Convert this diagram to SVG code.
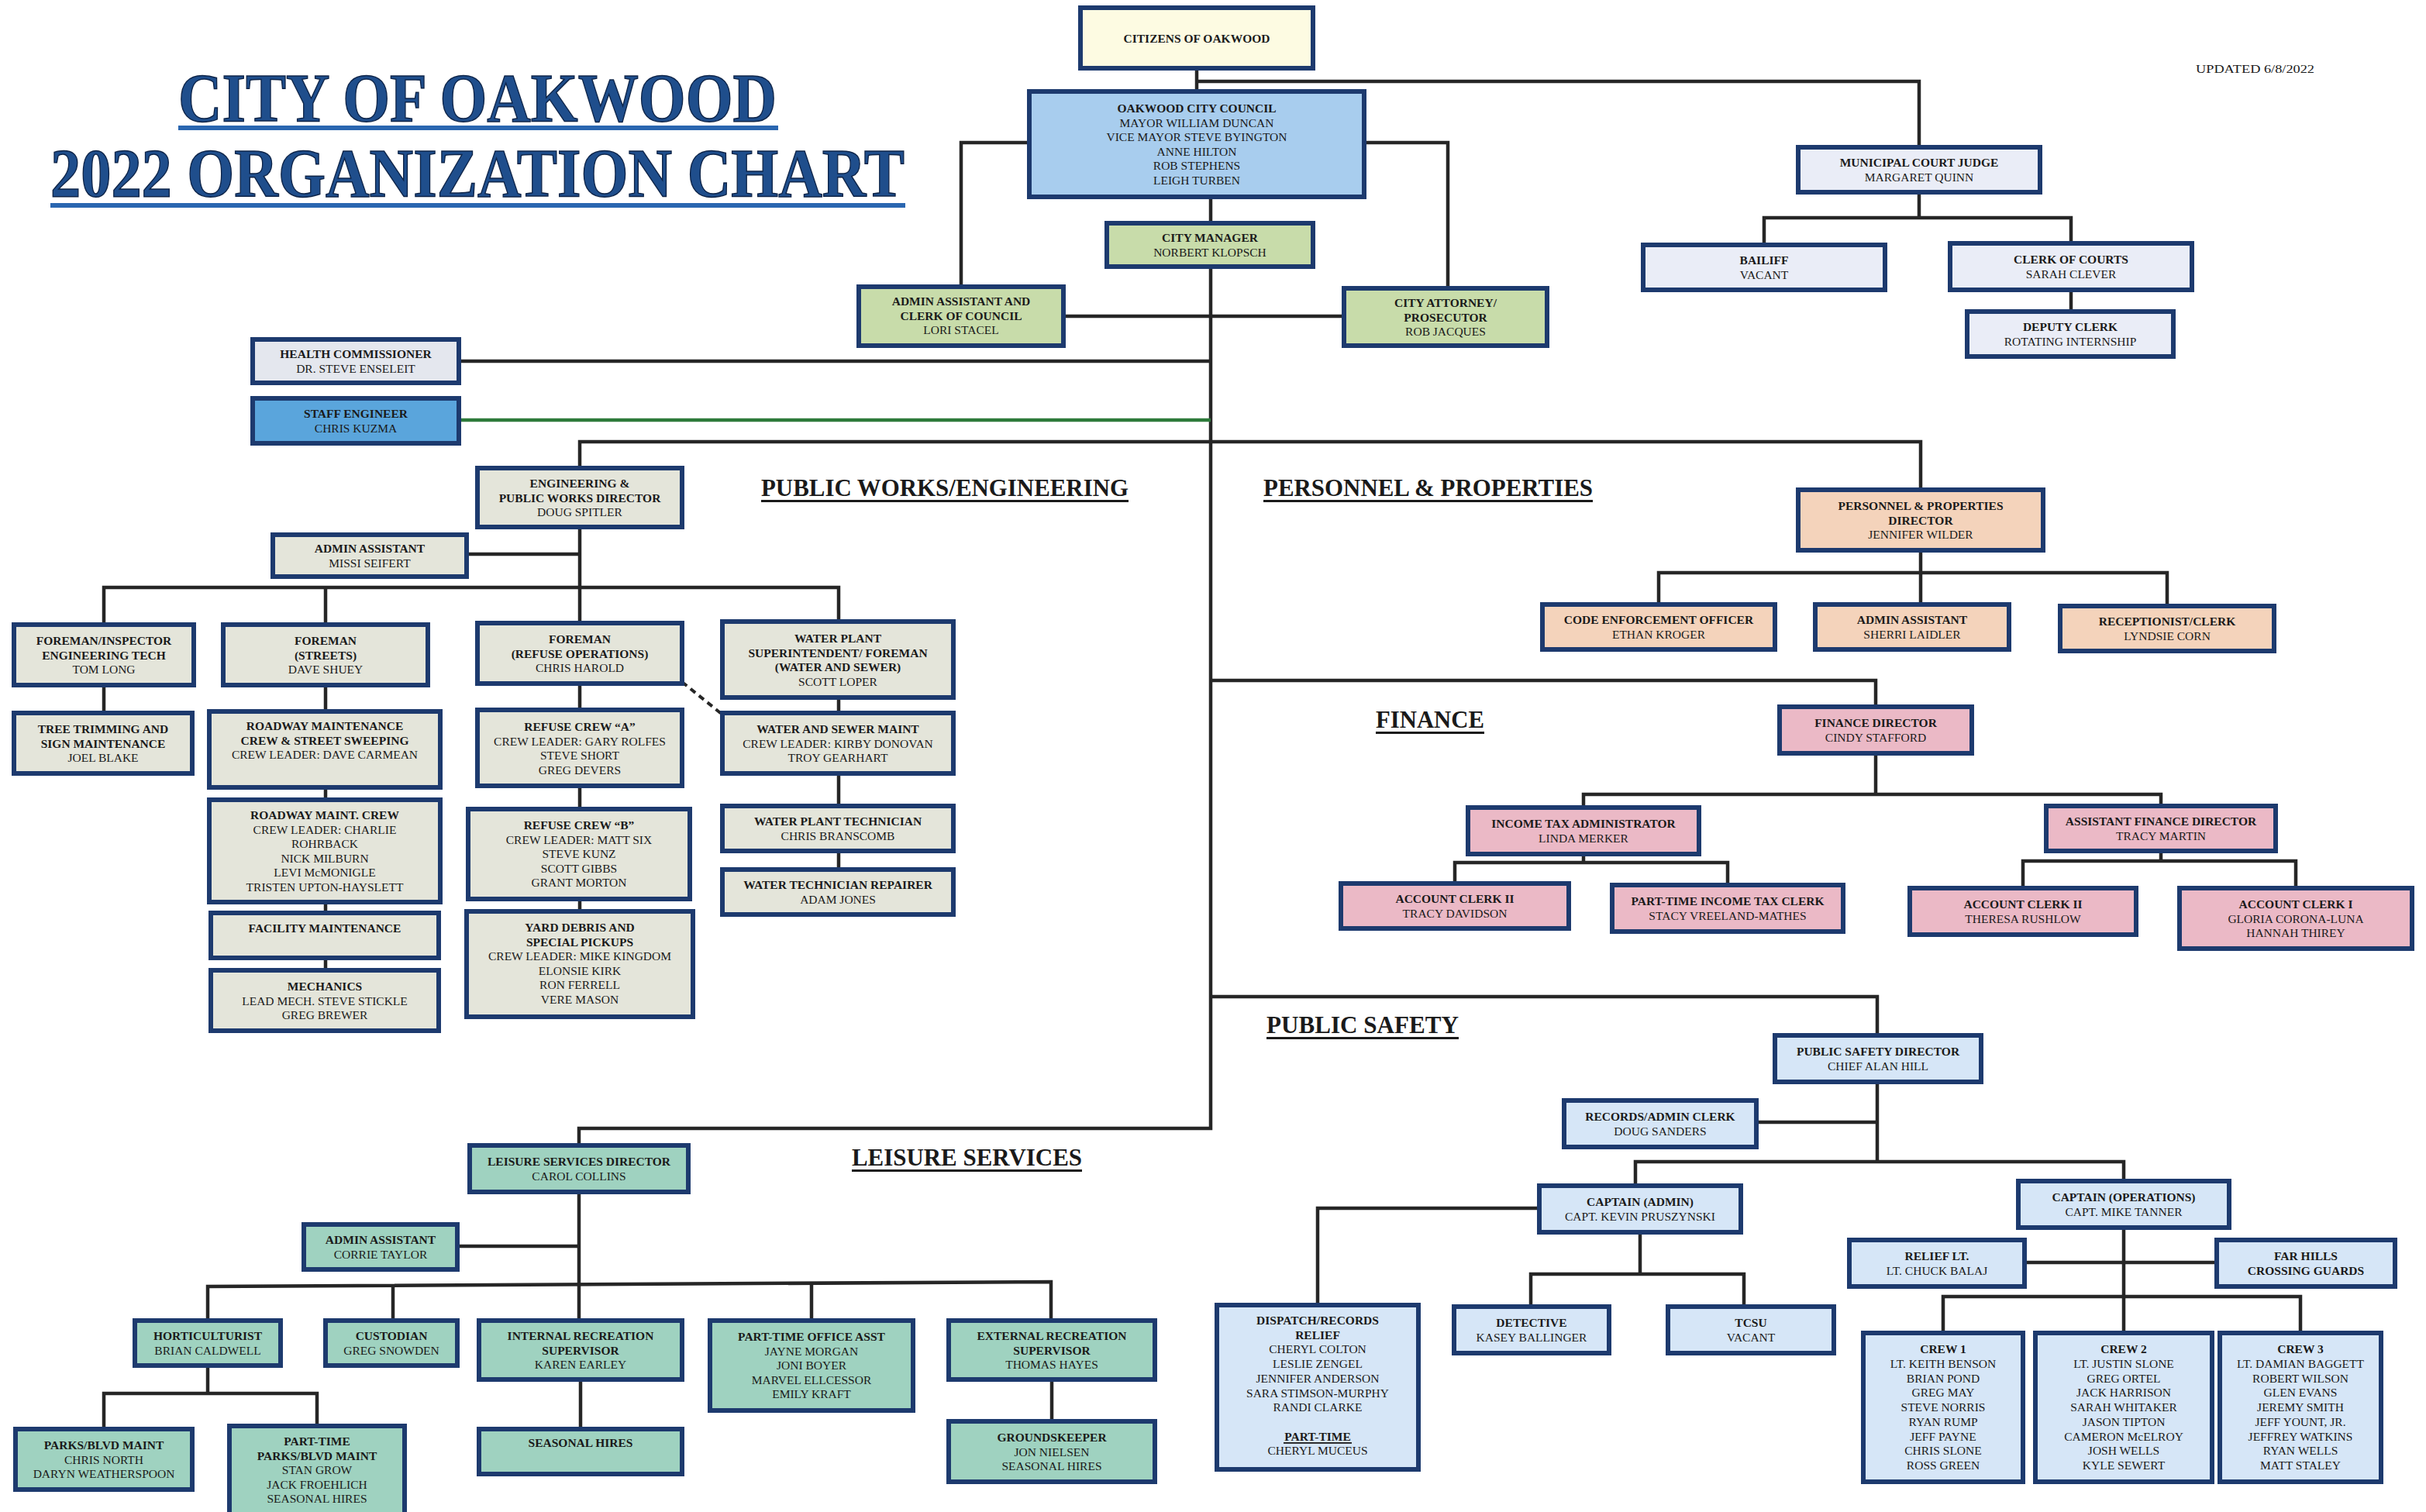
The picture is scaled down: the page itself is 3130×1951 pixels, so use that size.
<svg xmlns="http://www.w3.org/2000/svg" width="3130" height="1951" viewBox="0 0 3130 1951">
<style>
rect.b{stroke:#1d3a6e;stroke-width:6}
.cit{fill:#fdfbe2}.cou{fill:#a8cdee}.grn{fill:#c8dcaa}.crt{fill:#eaedf7}.hc{fill:#e4e7ee}.se{fill:#5aa5dc}
.pw{fill:#e4e5da}.pp{fill:#f4d3bb}.fin{fill:#ebb9c6}.ps{fill:#d6e6f7}.ls{fill:#9fd2c0}
text{font-family:"Liberation Serif","Times New Roman",serif;fill:#1a1a1a}
.t{font-size:15.5px;text-anchor:middle}
.h{font-weight:bold}
.sec{font-size:32px;font-weight:bold}
.ttl{font-size:88px;font-weight:bold;fill:#1f4e8c;stroke:#0d2347;stroke-width:1.5}
.c{stroke:#262626;stroke-width:4.5;fill:none}
.g{stroke:#2d7a3a;stroke-width:4.5;fill:none}
.d{stroke:#262626;stroke-width:4;fill:none;stroke-dasharray:8 6}
.ul{fill:#1a1a1a}
.tul{fill:#2a66b0}
</style>

<g id="title">
<text class="ttl" x="230" y="156" textLength="772" lengthAdjust="spacingAndGlyphs">CITY OF OAKWOOD</text>
<rect class="tul" x="230" y="162" width="774" height="6"/>
<text class="ttl" x="65" y="253" textLength="1102" lengthAdjust="spacingAndGlyphs">2022 ORGANIZATION CHART</text>
<rect class="tul" x="65" y="262" width="1103" height="6"/>
<text x="2833" y="94" font-size="15" textLength="153" lengthAdjust="spacingAndGlyphs">UPDATED 6/8/2022</text>
</g>

<g id="section-labels">
<text class="sec" x="982" y="640" textLength="474" lengthAdjust="spacingAndGlyphs">PUBLIC WORKS/ENGINEERING</text>
<rect class="ul" x="982" y="645" width="474" height="3"/>
<text class="sec" x="1630" y="640" textLength="425" lengthAdjust="spacingAndGlyphs">PERSONNEL &amp; PROPERTIES</text>
<rect class="ul" x="1630" y="645" width="425" height="3"/>
<text class="sec" x="1775" y="939" textLength="140" lengthAdjust="spacingAndGlyphs">FINANCE</text>
<rect class="ul" x="1775" y="944" width="140" height="3"/>
<text class="sec" x="1634" y="1333" textLength="248" lengthAdjust="spacingAndGlyphs">PUBLIC SAFETY</text>
<rect class="ul" x="1634" y="1338" width="248" height="3"/>
<text class="sec" x="1099" y="1504" textLength="297" lengthAdjust="spacingAndGlyphs">LEISURE SERVICES</text>
<rect class="ul" x="1099" y="1509" width="297" height="3"/>
</g>

<g id="connectors">
<!-- top -->
<path class="c" d="M1544 88V118"/>
<path class="c" d="M1544 105H2476V190"/>
<path class="c" d="M1328 184H1240V370"/>
<path class="c" d="M1760 184H1868V372"/>
<path class="c" d="M1562 254V288"/>
<path class="c" d="M1562 344V1456H747V1478"/>
<path class="c" d="M1372 408H1734"/>
<!-- court -->
<path class="c" d="M2476 248V281"/>
<path class="c" d="M2276 316V281H2672V314"/>
<path class="c" d="M2672 374V402"/>
<!-- health / staff engineer -->
<path class="c" d="M592 466H1562"/>
<path class="g" d="M592 542H1562"/>
<!-- public works / personnel -->
<path class="c" d="M748 604V570H2478V632"/>
<path class="c" d="M748 680V804"/>
<path class="c" d="M602 715H748"/>
<path class="c" d="M134 806V758H1082V802"/>
<path class="c" d="M420 758V806"/>
<path class="c" d="M134 884V920"/>
<path class="c" d="M420 884V918M420 1016V1032M420 1164V1178M420 1236V1252"/>
<path class="c" d="M748 882V916M748 1014V1044M748 1160V1176"/>
<path class="c" d="M1082 900V920M1082 998V1040M1082 1098V1122"/>
<path class="d" d="M880 880L932 922"/>
<!-- personnel -->
<path class="c" d="M2478 710V780"/>
<path class="c" d="M2140 780V739H2796V782"/>
<!-- finance -->
<path class="c" d="M1562 878H2420V912"/>
<path class="c" d="M2420 972V1025"/>
<path class="c" d="M2043 1042V1025H2788V1040"/>
<path class="c" d="M2043 1102V1113"/>
<path class="c" d="M1877 1140V1113H2229V1142"/>
<path class="c" d="M2788 1098V1111"/>
<path class="c" d="M2610 1146V1111H2962V1146"/>
<!-- public safety -->
<path class="c" d="M1562 1286H2422V1336"/>
<path class="c" d="M2422 1396V1499"/>
<path class="c" d="M2266 1448H2422"/>
<path class="c" d="M2110 1530V1499H2740V1524"/>
<path class="c" d="M1986 1559H1700V1684"/>
<path class="c" d="M2116 1590V1644"/>
<path class="c" d="M1975 1686V1644H2250V1686"/>
<path class="c" d="M2740 1584V1720"/>
<path class="c" d="M2612 1629H2860"/>
<path class="c" d="M2507 1720V1673H2968V1720"/>
<!-- leisure -->
<path class="c" d="M747 1538V1704"/>
<path class="c" d="M590 1608H747"/>
<path class="c" d="M268 1704V1660L1356 1654V1704"/>
<path class="c" d="M507 1658V1704"/>
<path class="c" d="M1047 1656V1704"/>
<path class="c" d="M268 1762V1798"/>
<path class="c" d="M134 1844V1798H409V1840"/>
<path class="c" d="M749 1780V1844"/>
<path class="c" d="M1357 1780V1834"/>
</g>

<g id="citizens"><rect class="b cit" x="1394" y="10" width="300" height="78"/>
<text class="t h"><tspan x="1544" y="55">CITIZENS OF OAKWOOD</tspan></text></g>

<g id="city-council"><rect class="b cou" x="1328" y="118" width="432" height="136"/>
<text class="t"><tspan class="h" x="1544" y="145">OAKWOOD CITY COUNCIL</tspan><tspan x="1544" y="163.5">MAYOR WILLIAM DUNCAN</tspan><tspan x="1544" y="182">VICE MAYOR STEVE BYINGTON</tspan><tspan x="1544" y="200.5">ANNE HILTON</tspan><tspan x="1544" y="219">ROB STEPHENS</tspan><tspan x="1544" y="237.5">LEIGH TURBEN</tspan></text></g>

<g id="city-manager"><rect class="b grn" x="1428" y="288" width="266" height="56"/>
<text class="t"><tspan class="h" x="1561" y="312">CITY MANAGER</tspan><tspan x="1561" y="330.5">NORBERT KLOPSCH</tspan></text></g>

<g id="clerk-of-council"><rect class="b grn" x="1108" y="370" width="264" height="76"/>
<text class="t"><tspan class="h" x="1240" y="394">ADMIN ASSISTANT AND</tspan><tspan class="h" x="1240" y="412.5">CLERK OF COUNCIL</tspan><tspan x="1240" y="431">LORI STACEL</tspan></text></g>

<g id="city-attorney"><rect class="b grn" x="1734" y="372" width="262" height="74"/>
<text class="t"><tspan class="h" x="1865" y="396">CITY ATTORNEY/</tspan><tspan class="h" x="1865" y="414.5">PROSECUTOR</tspan><tspan x="1865" y="433">ROB JACQUES</tspan></text></g>

<g id="court-judge"><rect class="b crt" x="2320" y="190" width="312" height="58"/>
<text class="t"><tspan class="h" x="2476" y="215">MUNICIPAL COURT JUDGE</tspan><tspan x="2476" y="233.5">MARGARET QUINN</tspan></text></g>

<g id="bailiff"><rect class="b crt" x="2120" y="316" width="312" height="58"/>
<text class="t"><tspan class="h" x="2276" y="341">BAILIFF</tspan><tspan x="2276" y="359.5">VACANT</tspan></text></g>

<g id="clerk-of-courts"><rect class="b crt" x="2516" y="314" width="312" height="60"/>
<text class="t"><tspan class="h" x="2672" y="340">CLERK OF COURTS</tspan><tspan x="2672" y="358.5">SARAH CLEVER</tspan></text></g>

<g id="deputy-clerk"><rect class="b crt" x="2538" y="402" width="266" height="58"/>
<text class="t"><tspan class="h" x="2671" y="427">DEPUTY CLERK</tspan><tspan x="2671" y="445.5">ROTATING INTERNSHIP</tspan></text></g>

<g id="health-commissioner"><rect class="b hc" x="326" y="438" width="266" height="56"/>
<text class="t"><tspan class="h" x="459" y="462">HEALTH COMMISSIONER</tspan><tspan x="459" y="480.5">DR. STEVE ENSELEIT</tspan></text></g>

<g id="staff-engineer"><rect class="b se" x="326" y="514" width="266" height="58"/>
<text class="t"><tspan class="h" x="459" y="539">STAFF ENGINEER</tspan><tspan x="459" y="557.5">CHRIS KUZMA</tspan></text></g>

<g id="pw-director"><rect class="b pw" x="616" y="604" width="264" height="76"/>
<text class="t"><tspan class="h" x="748" y="629">ENGINEERING &amp;</tspan><tspan class="h" x="748" y="647.5">PUBLIC WORKS DIRECTOR</tspan><tspan x="748" y="666">DOUG SPITLER</tspan></text></g>

<g id="pw-admin"><rect class="b pw" x="352" y="690" width="250" height="54"/>
<text class="t"><tspan class="h" x="477" y="713">ADMIN ASSISTANT</tspan><tspan x="477" y="731.5">MISSI SEIFERT</tspan></text></g>

<g id="foreman-inspector"><rect class="b pw" x="18" y="806" width="232" height="78"/>
<text class="t"><tspan class="h" x="134" y="832">FOREMAN/INSPECTOR</tspan><tspan class="h" x="134" y="850.5">ENGINEERING TECH</tspan><tspan x="134" y="869">TOM LONG</tspan></text></g>

<g id="tree-trimming"><rect class="b pw" x="18" y="920" width="230" height="78"/>
<text class="t"><tspan class="h" x="133" y="946">TREE TRIMMING AND</tspan><tspan class="h" x="133" y="964.5">SIGN MAINTENANCE</tspan><tspan x="133" y="983">JOEL BLAKE</tspan></text></g>

<g id="foreman-streets"><rect class="b pw" x="288" y="806" width="264" height="78"/>
<text class="t"><tspan class="h" x="420" y="832">FOREMAN</tspan><tspan class="h" x="420" y="850.5">(STREETS)</tspan><tspan x="420" y="869">DAVE SHUEY</tspan></text></g>

<g id="roadway-sweeping"><rect class="b pw" x="270" y="918" width="298" height="98"/>
<text class="t"><tspan class="h" x="419" y="942">ROADWAY MAINTENANCE</tspan><tspan class="h" x="419" y="960.5">CREW &amp; STREET SWEEPING</tspan><tspan x="419" y="979">CREW LEADER: DAVE CARMEAN</tspan></text></g>

<g id="roadway-crew"><rect class="b pw" x="270" y="1032" width="298" height="132"/>
<text class="t"><tspan class="h" x="419" y="1057">ROADWAY MAINT. CREW</tspan><tspan x="419" y="1075.5">CREW LEADER: CHARLIE</tspan><tspan x="419" y="1094">ROHRBACK</tspan><tspan x="419" y="1112.5">NICK MILBURN</tspan><tspan x="419" y="1131">LEVI McMONIGLE</tspan><tspan x="419" y="1149.5">TRISTEN UPTON-HAYSLETT</tspan></text></g>

<g id="facility-maintenance"><rect class="b pw" x="272" y="1178" width="294" height="58"/>
<text class="t h"><tspan x="419" y="1203">FACILITY MAINTENANCE</tspan></text></g>

<g id="mechanics"><rect class="b pw" x="272" y="1252" width="294" height="78"/>
<text class="t"><tspan class="h" x="419" y="1278">MECHANICS</tspan><tspan x="419" y="1296.5">LEAD MECH. STEVE STICKLE</tspan><tspan x="419" y="1315">GREG BREWER</tspan></text></g>

<g id="foreman-refuse"><rect class="b pw" x="616" y="804" width="264" height="78"/>
<text class="t"><tspan class="h" x="748" y="830">FOREMAN</tspan><tspan class="h" x="748" y="848.5">(REFUSE OPERATIONS)</tspan><tspan x="748" y="867">CHRIS HAROLD</tspan></text></g>

<g id="refuse-crew-a"><rect class="b pw" x="616" y="916" width="264" height="98"/>
<text class="t"><tspan class="h" x="748" y="943">REFUSE CREW “A”</tspan><tspan x="748" y="961.5">CREW LEADER: GARY ROLFES</tspan><tspan x="748" y="980">STEVE SHORT</tspan><tspan x="748" y="998.5">GREG DEVERS</tspan></text></g>

<g id="refuse-crew-b"><rect class="b pw" x="604" y="1044" width="286" height="116"/>
<text class="t"><tspan class="h" x="747" y="1070">REFUSE CREW “B”</tspan><tspan x="747" y="1088.5">CREW LEADER: MATT SIX</tspan><tspan x="747" y="1107">STEVE KUNZ</tspan><tspan x="747" y="1125.5">SCOTT GIBBS</tspan><tspan x="747" y="1144">GRANT MORTON</tspan></text></g>

<g id="yard-debris"><rect class="b pw" x="602" y="1176" width="292" height="136"/>
<text class="t"><tspan class="h" x="748" y="1202">YARD DEBRIS AND</tspan><tspan class="h" x="748" y="1220.5">SPECIAL PICKUPS</tspan><tspan x="748" y="1239">CREW LEADER: MIKE KINGDOM</tspan><tspan x="748" y="1257.5">ELONSIE KIRK</tspan><tspan x="748" y="1276">RON FERRELL</tspan><tspan x="748" y="1294.5">VERE MASON</tspan></text></g>

<g id="water-plant-super"><rect class="b pw" x="932" y="802" width="298" height="98"/>
<text class="t"><tspan class="h" x="1081" y="829">WATER PLANT</tspan><tspan class="h" x="1081" y="847.5">SUPERINTENDENT/ FOREMAN</tspan><tspan class="h" x="1081" y="866">(WATER AND SEWER)</tspan><tspan x="1081" y="884.5">SCOTT LOPER</tspan></text></g>

<g id="water-sewer-maint"><rect class="b pw" x="932" y="920" width="298" height="78"/>
<text class="t"><tspan class="h" x="1081" y="946">WATER AND SEWER MAINT</tspan><tspan x="1081" y="964.5">CREW LEADER: KIRBY DONOVAN</tspan><tspan x="1081" y="983">TROY GEARHART</tspan></text></g>

<g id="water-plant-tech"><rect class="b pw" x="932" y="1040" width="298" height="58"/>
<text class="t"><tspan class="h" x="1081" y="1065">WATER PLANT TECHNICIAN</tspan><tspan x="1081" y="1083.5">CHRIS BRANSCOMB</tspan></text></g>

<g id="water-tech-repairer"><rect class="b pw" x="932" y="1122" width="298" height="58"/>
<text class="t"><tspan class="h" x="1081" y="1147">WATER TECHNICIAN REPAIRER</tspan><tspan x="1081" y="1165.5">ADAM JONES</tspan></text></g>

<g id="pp-director"><rect class="b pp" x="2320" y="632" width="316" height="78"/>
<text class="t"><tspan class="h" x="2478" y="658">PERSONNEL &amp; PROPERTIES</tspan><tspan class="h" x="2478" y="676.5">DIRECTOR</tspan><tspan x="2478" y="695">JENNIFER WILDER</tspan></text></g>

<g id="code-enforcement"><rect class="b pp" x="1990" y="780" width="300" height="58"/>
<text class="t"><tspan class="h" x="2140" y="805">CODE ENFORCEMENT OFFICER</tspan><tspan x="2140" y="823.5">ETHAN KROGER</tspan></text></g>

<g id="pp-admin"><rect class="b pp" x="2342" y="780" width="250" height="58"/>
<text class="t"><tspan class="h" x="2467" y="805">ADMIN ASSISTANT</tspan><tspan x="2467" y="823.5">SHERRI LAIDLER</tspan></text></g>

<g id="receptionist"><rect class="b pp" x="2658" y="782" width="276" height="58"/>
<text class="t"><tspan class="h" x="2796" y="807">RECEPTIONIST/CLERK</tspan><tspan x="2796" y="825.5">LYNDSIE CORN</tspan></text></g>

<g id="finance-director"><rect class="b fin" x="2296" y="912" width="248" height="60"/>
<text class="t"><tspan class="h" x="2420" y="938">FINANCE DIRECTOR</tspan><tspan x="2420" y="956.5">CINDY STAFFORD</tspan></text></g>

<g id="income-tax-admin"><rect class="b fin" x="1894" y="1042" width="298" height="60"/>
<text class="t"><tspan class="h" x="2043" y="1068">INCOME TAX ADMINISTRATOR</tspan><tspan x="2043" y="1086.5">LINDA MERKER</tspan></text></g>

<g id="asst-finance-director"><rect class="b fin" x="2640" y="1040" width="296" height="58"/>
<text class="t"><tspan class="h" x="2788" y="1065">ASSISTANT FINANCE DIRECTOR</tspan><tspan x="2788" y="1083.5">TRACY MARTIN</tspan></text></g>

<g id="account-clerk-davidson"><rect class="b fin" x="1730" y="1140" width="294" height="58"/>
<text class="t"><tspan class="h" x="1877" y="1165">ACCOUNT CLERK II</tspan><tspan x="1877" y="1183.5">TRACY DAVIDSON</tspan></text></g>

<g id="pt-income-tax-clerk"><rect class="b fin" x="2080" y="1142" width="298" height="60"/>
<text class="t"><tspan class="h" x="2229" y="1168">PART-TIME INCOME TAX CLERK</tspan><tspan x="2229" y="1186.5">STACY VREELAND-MATHES</tspan></text></g>

<g id="account-clerk-rushlow"><rect class="b fin" x="2464" y="1146" width="292" height="60"/>
<text class="t"><tspan class="h" x="2610" y="1172">ACCOUNT CLERK II</tspan><tspan x="2610" y="1190.5">THERESA RUSHLOW</tspan></text></g>

<g id="account-clerk-i"><rect class="b fin" x="2812" y="1146" width="300" height="78"/>
<text class="t"><tspan class="h" x="2962" y="1172">ACCOUNT CLERK I</tspan><tspan x="2962" y="1190.5">GLORIA CORONA-LUNA</tspan><tspan x="2962" y="1209">HANNAH THIREY</tspan></text></g>

<g id="ps-director"><rect class="b ps" x="2290" y="1336" width="266" height="60"/>
<text class="t"><tspan class="h" x="2423" y="1362">PUBLIC SAFETY DIRECTOR</tspan><tspan x="2423" y="1380.5">CHIEF ALAN HILL</tspan></text></g>

<g id="records-clerk"><rect class="b ps" x="2018" y="1420" width="248" height="60"/>
<text class="t"><tspan class="h" x="2142" y="1446">RECORDS/ADMIN CLERK</tspan><tspan x="2142" y="1464.5">DOUG SANDERS</tspan></text></g>

<g id="captain-admin"><rect class="b ps" x="1986" y="1530" width="260" height="60"/>
<text class="t"><tspan class="h" x="2116" y="1556">CAPTAIN (ADMIN)</tspan><tspan x="2116" y="1574.5">CAPT. KEVIN PRUSZYNSKI</tspan></text></g>

<g id="captain-operations"><rect class="b ps" x="2604" y="1524" width="272" height="60"/>
<text class="t"><tspan class="h" x="2740" y="1550">CAPTAIN (OPERATIONS)</tspan><tspan x="2740" y="1568.5">CAPT. MIKE TANNER</tspan></text></g>

<g id="dispatch-records"><rect class="b ps" x="1570" y="1684" width="260" height="212"/>
<text class="t"><tspan class="h" x="1700" y="1709">DISPATCH/RECORDS</tspan><tspan class="h" x="1700" y="1727.7">RELIEF</tspan><tspan x="1700" y="1746.4">CHERYL COLTON</tspan><tspan x="1700" y="1765.1">LESLIE ZENGEL</tspan><tspan x="1700" y="1783.8">JENNIFER ANDERSON</tspan><tspan x="1700" y="1802.5">SARA STIMSON-MURPHY</tspan><tspan x="1700" y="1821.2">RANDI CLARKE</tspan><tspan class="h" x="1700" y="1858.6">PART-TIME</tspan><tspan x="1700" y="1877.3">CHERYL MUCEUS</tspan></text>
<rect class="ul" x="1656" y="1861" width="88" height="1.8"/></g>

<g id="detective"><rect class="b ps" x="1876" y="1686" width="200" height="60"/>
<text class="t"><tspan class="h" x="1976" y="1712">DETECTIVE</tspan><tspan x="1976" y="1730.5">KASEY BALLINGER</tspan></text></g>

<g id="tcsu"><rect class="b ps" x="2152" y="1686" width="214" height="60"/>
<text class="t"><tspan class="h" x="2259" y="1712">TCSU</tspan><tspan x="2259" y="1730.5">VACANT</tspan></text></g>

<g id="relief-lt"><rect class="b ps" x="2386" y="1600" width="226" height="60"/>
<text class="t"><tspan class="h" x="2499" y="1626">RELIEF LT.</tspan><tspan x="2499" y="1644.5">LT. CHUCK BALAJ</tspan></text></g>

<g id="crossing-guards"><rect class="b ps" x="2860" y="1600" width="230" height="60"/>
<text class="t h"><tspan x="2975" y="1626">FAR HILLS</tspan><tspan x="2975" y="1644.5">CROSSING GUARDS</tspan></text></g>

<g id="crew-1"><rect class="b ps" x="2404" y="1720" width="206" height="192"/>
<text class="t"><tspan class="h" x="2507" y="1746">CREW 1</tspan><tspan x="2507" y="1764.75">LT. KEITH BENSON</tspan><tspan x="2507" y="1783.5">BRIAN POND</tspan><tspan x="2507" y="1802.25">GREG MAY</tspan><tspan x="2507" y="1821">STEVE NORRIS</tspan><tspan x="2507" y="1839.75">RYAN RUMP</tspan><tspan x="2507" y="1858.5">JEFF PAYNE</tspan><tspan x="2507" y="1877.25">CHRIS SLONE</tspan><tspan x="2507" y="1896">ROSS GREEN</tspan></text></g>

<g id="crew-2"><rect class="b ps" x="2626" y="1720" width="228" height="192"/>
<text class="t"><tspan class="h" x="2740" y="1746">CREW 2</tspan><tspan x="2740" y="1764.75">LT. JUSTIN SLONE</tspan><tspan x="2740" y="1783.5">GREG ORTEL</tspan><tspan x="2740" y="1802.25">JACK HARRISON</tspan><tspan x="2740" y="1821">SARAH WHITAKER</tspan><tspan x="2740" y="1839.75">JASON TIPTON</tspan><tspan x="2740" y="1858.5">CAMERON McELROY</tspan><tspan x="2740" y="1877.25">JOSH WELLS</tspan><tspan x="2740" y="1896">KYLE SEWERT</tspan></text></g>

<g id="crew-3"><rect class="b ps" x="2864" y="1720" width="208" height="192"/>
<text class="t"><tspan class="h" x="2968" y="1746">CREW 3</tspan><tspan x="2968" y="1764.75">LT. DAMIAN BAGGETT</tspan><tspan x="2968" y="1783.5">ROBERT WILSON</tspan><tspan x="2968" y="1802.25">GLEN EVANS</tspan><tspan x="2968" y="1821">JEREMY SMITH</tspan><tspan x="2968" y="1839.75">JEFF YOUNT, JR.</tspan><tspan x="2968" y="1858.5">JEFFREY WATKINS</tspan><tspan x="2968" y="1877.25">RYAN WELLS</tspan><tspan x="2968" y="1896">MATT STALEY</tspan></text></g>

<g id="leisure-director"><rect class="b ls" x="606" y="1478" width="282" height="60"/>
<text class="t"><tspan class="h" x="747" y="1504">LEISURE SERVICES DIRECTOR</tspan><tspan x="747" y="1522.5">CAROL COLLINS</tspan></text></g>

<g id="leisure-admin"><rect class="b ls" x="392" y="1580" width="198" height="58"/>
<text class="t"><tspan class="h" x="491" y="1605">ADMIN ASSISTANT</tspan><tspan x="491" y="1623.5">CORRIE TAYLOR</tspan></text></g>

<g id="horticulturist"><rect class="b ls" x="174" y="1704" width="188" height="58"/>
<text class="t"><tspan class="h" x="268" y="1729">HORTICULTURIST</tspan><tspan x="268" y="1747.5">BRIAN CALDWELL</tspan></text></g>

<g id="custodian"><rect class="b ls" x="420" y="1704" width="170" height="58"/>
<text class="t"><tspan class="h" x="505" y="1729">CUSTODIAN</tspan><tspan x="505" y="1747.5">GREG SNOWDEN</tspan></text></g>

<g id="internal-recreation"><rect class="b ls" x="618" y="1704" width="262" height="76"/>
<text class="t"><tspan class="h" x="749" y="1729">INTERNAL RECREATION</tspan><tspan class="h" x="749" y="1747.5">SUPERVISOR</tspan><tspan x="749" y="1766">KAREN EARLEY</tspan></text></g>

<g id="pt-office-asst"><rect class="b ls" x="916" y="1704" width="262" height="116"/>
<text class="t"><tspan class="h" x="1047" y="1730">PART-TIME OFFICE ASST</tspan><tspan x="1047" y="1748.5">JAYNE MORGAN</tspan><tspan x="1047" y="1767">JONI BOYER</tspan><tspan x="1047" y="1785.5">MARVEL ELLCESSOR</tspan><tspan x="1047" y="1804">EMILY KRAFT</tspan></text></g>

<g id="external-recreation"><rect class="b ls" x="1224" y="1704" width="266" height="76"/>
<text class="t"><tspan class="h" x="1357" y="1729">EXTERNAL RECREATION</tspan><tspan class="h" x="1357" y="1747.5">SUPERVISOR</tspan><tspan x="1357" y="1766">THOMAS HAYES</tspan></text></g>

<g id="parks-blvd-maint"><rect class="b ls" x="20" y="1844" width="228" height="78"/>
<text class="t"><tspan class="h" x="134" y="1870">PARKS/BLVD MAINT</tspan><tspan x="134" y="1888.5">CHRIS NORTH</tspan><tspan x="134" y="1907">DARYN WEATHERSPOON</tspan></text></g>

<g id="pt-parks-blvd-maint"><rect class="b ls" x="296" y="1840" width="226" height="124"/>
<text class="t"><tspan class="h" x="409" y="1865">PART-TIME</tspan><tspan class="h" x="409" y="1883.5">PARKS/BLVD MAINT</tspan><tspan x="409" y="1902">STAN GROW</tspan><tspan x="409" y="1920.5">JACK FROEHLICH</tspan><tspan x="409" y="1939">SEASONAL HIRES</tspan></text></g>

<g id="seasonal-hires"><rect class="b ls" x="618" y="1844" width="262" height="58"/>
<text class="t h"><tspan x="749" y="1867">SEASONAL HIRES</tspan></text></g>

<g id="groundskeeper"><rect class="b ls" x="1224" y="1834" width="266" height="78"/>
<text class="t"><tspan class="h" x="1357" y="1860">GROUNDSKEEPER</tspan><tspan x="1357" y="1878.5">JON NIELSEN</tspan><tspan x="1357" y="1897">SEASONAL HIRES</tspan></text></g>
</svg>
